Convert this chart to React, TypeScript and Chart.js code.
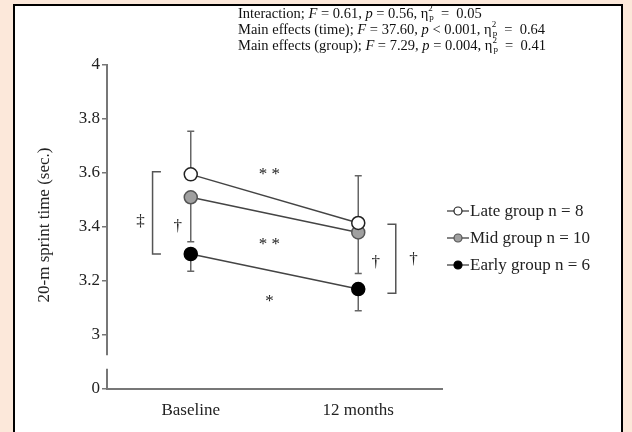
import React, { useEffect, useRef } from "react";
import { Chart, registerables } from "chart.js";

Chart.register(...registerables);

const categories = ["Baseline", "12 months"];
const seriesNames = ["Late group n = 8", "Mid group n = 10", "Early group n = 6"];
const lateValues = [3.595, 3.415];
const midValues = [3.51, 3.38];
const earlyValues = [3.3, 3.17];
// error bar ends (upper for late, lower for mid & early)
const lateUpper = [3.755, 3.59];
const midLower = [3.345, 3.228];
const earlyLower = [3.236, 3.09];
const yTicks = [2.8, 3.0, 3.2, 3.4, 3.6, 3.8, 4.0];
const yTickLabels = ["0", "3", "3.2", "3.4", "3.6", "3.8", "4"];
const yTitle = "20-m sprint time (sec.)";
// annotation symbols: [text, category position, value]
const symbols: [string, number, number][] = [
  ["‡", -0.3, 3.42],
  ["†", -0.077, 3.4],
  ["**", 0.47, 3.605],
  ["**", 0.47, 3.345],
  ["*", 0.47, 3.135],
  ["†", 1.105, 3.27],
  ["†", 1.33, 3.28],
];
// brackets: [x position (category units), inner x, top value, bottom value]
const brackets: [number, number, number, number][] = [
  [-0.228, -0.178, 3.605, 3.3],
  [1.224, 1.174, 3.41, 3.155],
];

const SERIF = '"Liberation Serif", "Times New Roman", serif';

export default function App() {
  const ref = useRef<HTMLCanvasElement>(null);
  useEffect(() => {
    const canvas = ref.current!;
    const fills = ["#ffffff", "#a0a0a0", "#000000"];
    const borders = ["#222222", "#555555", "#000000"];
    const values = [lateValues, midValues, earlyValues];

    const xAt = (chart: any, pos: number) => {
      const xs = chart.scales.x;
      const p0 = xs.getPixelForValue(0);
      const p1 = xs.getPixelForValue(1);
      return p0 + pos * (p1 - p0);
    };

    const plugin = {
      id: "extras",
      beforeDatasetsDraw(chart: any) {
        const ctx = chart.ctx;
        const ys = chart.scales.y;
        ctx.save();
        ctx.strokeStyle = "#666";
        ctx.lineWidth = 1.5;
        const bars: [number[], number[]][] = [
          [lateValues, lateUpper],
          [midValues, midLower],
          [earlyValues, earlyLower],
        ];
        bars.forEach(([v, e]) => {
          v.forEach((val, i) => {
            const x = xAt(chart, i);
            const y0 = ys.getPixelForValue(val);
            const y1 = ys.getPixelForValue(e[i]);
            ctx.beginPath();
            ctx.moveTo(x, y0);
            ctx.lineTo(x, y1);
            ctx.moveTo(x - 3.5, y1);
            ctx.lineTo(x + 3.5, y1);
            ctx.stroke();
          });
        });
        ctx.restore();
      },
      afterDraw(chart: any) {
        const ctx = chart.ctx;
        const ys = chart.scales.y;
        const area = chart.chartArea;
        ctx.save();
        // axis break
        const yb1 = ys.getPixelForValue(2.925);
        const yb2 = ys.getPixelForValue(2.875);
        ctx.fillStyle = "#fff";
        ctx.fillRect(area.left - 3, yb1, 6, yb2 - yb1);
        // brackets
        ctx.strokeStyle = "#555";
        ctx.lineWidth = 1.5;
        brackets.forEach(([bx, ix, t, b]) => {
          const x = xAt(chart, bx);
          const xi = xAt(chart, ix);
          const yt = ys.getPixelForValue(t);
          const yb = ys.getPixelForValue(b);
          ctx.beginPath();
          ctx.moveTo(xi, yt);
          ctx.lineTo(x, yt);
          ctx.lineTo(x, yb);
          ctx.lineTo(xi, yb);
          ctx.stroke();
        });
        // symbols
        ctx.fillStyle = "#222";
        ctx.font = `17px ${SERIF}`;
        ctx.textAlign = "center";
        ctx.textBaseline = "middle";
        symbols.forEach(([s, px, v]) => {
          const txt = s === "**" ? "* *" : s;
          ctx.fillText(txt, xAt(chart, px), ys.getPixelForValue(v) + (s.includes("*") ? 3 : 0));
        });
        // y title
        ctx.save();
        ctx.translate(45, (area.top + area.bottom) / 2 - 2);
        ctx.rotate(-Math.PI / 2);
        ctx.font = `17px ${SERIF}`;
        ctx.fillText(yTitle, 0, 0);
        ctx.restore();
        // legend
        const lx = area.right + 5;
        const ly0 = 211;
        ctx.textAlign = "left";
        ctx.font = `17px ${SERIF}`;
        seriesNames.forEach((name, i) => {
          const y = ly0 + i * 27;
          ctx.strokeStyle = "#333";
          ctx.lineWidth = 1.2;
          ctx.beginPath();
          ctx.moveTo(lx, y);
          ctx.lineTo(lx + 22, y);
          ctx.stroke();
          ctx.beginPath();
          ctx.arc(lx + 11, y, 4, 0, Math.PI * 2);
          ctx.fillStyle = fills[i];
          ctx.fill();
          ctx.strokeStyle = borders[i];
          ctx.stroke();
          ctx.fillStyle = "#222";
          ctx.fillText(name, lx + 23, y + 1);
        });
        ctx.restore();
      },
    };

    const chart = new Chart(canvas, {
      type: "line",
      data: {
        labels: categories,
        datasets: values.map((v, i) => ({
          label: seriesNames[i],
          data: v,
          borderColor: "#444",
          borderWidth: 1.5,
          pointRadius: 6.5,
          pointBackgroundColor: fills[i],
          pointBorderColor: borders[i],
          pointBorderWidth: 1.5,
          tension: 0,
        })),
      },
      options: {
        animation: false,
        responsive: false,
        maintainAspectRatio: false,
        layout: { padding: { left: 60, top: 65, right: 190, bottom: 13 } },
        plugins: { legend: { display: false }, tooltip: { enabled: false } },
        scales: {
          x: {
            type: "category",
            offset: true,
            grid: { display: false, drawTicks: false },
            border: { display: true, color: "#777", width: 2 },
            ticks: { color: "#222", font: { family: SERIF, size: 17 }, padding: 11 },
            afterFit(s: any) { s.height = 30; },
          },
          y: {
            min: 2.8,
            max: 4.0,
            afterBuildTicks(s: any) { s.ticks = yTicks.map((v) => ({ value: v })); },
            grid: { display: true, drawOnChartArea: false, drawTicks: true, tickLength: 5, color: "#777", lineWidth: 1.5 },
            border: { display: true, color: "#777", width: 2 },
            ticks: {
              color: "#222",
              font: { family: SERIF, size: 17 },
              padding: 2,
              callback: (v: any) => {
                const idx = yTicks.findIndex((t) => Math.abs(t - Number(v)) < 1e-6);
                return idx >= 0 ? yTickLabels[idx] : "";
              },
            },
            afterFit(s: any) { s.width = 47; },
          },
        },
      },
      plugins: [plugin],
    });
    return () => chart.destroy();
  }, []);

  const eta = (
    <span style={{ display: "inline-block", position: "relative" }}>
      η
      <span style={{ display: "inline-block", position: "relative", width: 9, height: 10 }}>
        <span style={{ position: "absolute", left: 0, top: -8, fontSize: 9 }}>2</span>
        <span style={{ position: "absolute", left: 1, top: 1, fontSize: 9 }}>p</span>
      </span>
    </span>
  );
  const lines = [
    ["Interaction; ", "0.61", "= 0.56", "0.05"],
    ["Main effects (time); ", "37.60", "< 0.001", "0.64"],
    ["Main effects (group); ", "7.29", "= 0.004", "0.41"],
  ];

  return (
    <div style={{ position: "fixed", left: 0, top: 0, width: 632, height: 432, background: "#fce8da", overflow: "hidden" }}>
      <div
        style={{
          position: "absolute",
          left: 13,
          top: 4,
          width: 606,
          height: 440,
          background: "#fff",
          borderLeft: "2px solid #000",
          borderTop: "2px solid #000",
          borderRight: "2px solid #000",
        }}
      />
      <canvas ref={ref} width={632} height={432} style={{ position: "absolute", left: 0, top: 0 }} />
      <div
        style={{
          position: "absolute",
          left: 238,
          top: 5,
          fontFamily: SERIF,
          fontSize: 14.5,
          lineHeight: "16px",
          color: "#111",
          whiteSpace: "nowrap",
        }}
      >
        {lines.map((l, i) => (
          <div key={i}>
            {l[0]}
            <i>F</i> = {l[1]}, <i>p</i> {l[2]}, {eta} = {"\u00a0"}{l[3]}
          </div>
        ))}
      </div>
    </div>
  );
}
